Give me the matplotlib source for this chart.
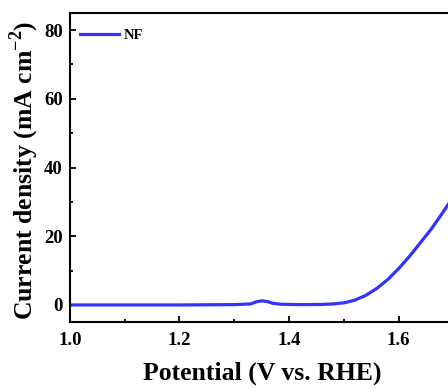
import matplotlib
matplotlib.use("Agg")
import matplotlib.pyplot as plt
from matplotlib.ticker import MultipleLocator, FormatStrFormatter

potential = [1.00, 1.05, 1.10, 1.15, 1.20, 1.25, 1.30, 1.33, 1.34, 1.35, 1.36, 1.37, 1.385, 1.42, 1.46, 1.48,
             1.50, 1.52, 1.54, 1.56, 1.58, 1.60, 1.62, 1.64, 1.66, 1.68, 1.70]
current = [0.0, 0.0, 0.0, 0.0, 0.0, 0.05, 0.1, 0.3, 0.9, 1.2, 1.0, 0.5, 0.2, 0.1, 0.15, 0.3,
           0.6, 1.4, 2.8, 4.8, 7.4, 10.6, 14.2, 18.2, 22.2, 26.8, 31.5]
series_label = "NF"

plt.rcParams['font.family'] = ['Liberation Serif', 'DejaVu Serif']
plt.rcParams['mathtext.fontset'] = 'custom'
plt.rcParams['mathtext.rm'] = 'Liberation Serif:bold'
plt.rcParams['mathtext.bf'] = 'Liberation Serif:bold'

fig = plt.figure(figsize=(4.48, 3.90), dpi=100)
ax = fig.add_axes([0.156, 0.174, 0.844, 0.793])
ax.plot(potential, current, color='#3333ff', lw=2.3, label=series_label)
ax.set_xlim(1.0, 1.69)
ax.set_ylim(-5, 85)
ax.xaxis.set_major_locator(MultipleLocator(0.2))
ax.xaxis.set_minor_locator(MultipleLocator(0.1))
ax.yaxis.set_major_locator(MultipleLocator(20))
ax.yaxis.set_minor_locator(MultipleLocator(10))
ax.tick_params(which='both', direction='in', top=False, right=False, width=1.3)
ax.tick_params(which='major', length=4, labelsize=13.5)
ax.tick_params(which='minor', length=2.5)
ax.tick_params(axis='x', pad=7)
ax.tick_params(axis='y', pad=5)
for lab in ax.get_xticklabels() + ax.get_yticklabels():
    lab.set_fontweight('bold')
ax.xaxis.set_major_formatter(FormatStrFormatter('%.1f'))
ax.spines['right'].set_visible(False)
for s in ['left', 'bottom', 'top']:
    ax.spines[s].set_linewidth(1.5)
ax.set_xlabel('Potential (V vs. RHE)', fontsize=18.5, fontweight='bold')
ax.set_ylabel('Current density (mA cm$^{-2}$)', fontsize=18.5, fontweight='bold')
ax.xaxis.set_label_coords((262 - 70) / 378, -0.129)
ax.yaxis.set_label_coords(-0.077, 0.492)
leg = ax.legend(loc='upper left', bbox_to_anchor=(0.0, 0.98), frameon=False,
                prop={'weight': 'bold', 'size': 10.5},
                handlelength=2.7, handletextpad=0.3, borderaxespad=0.3)
fig.savefig('out.png', dpi=100)
